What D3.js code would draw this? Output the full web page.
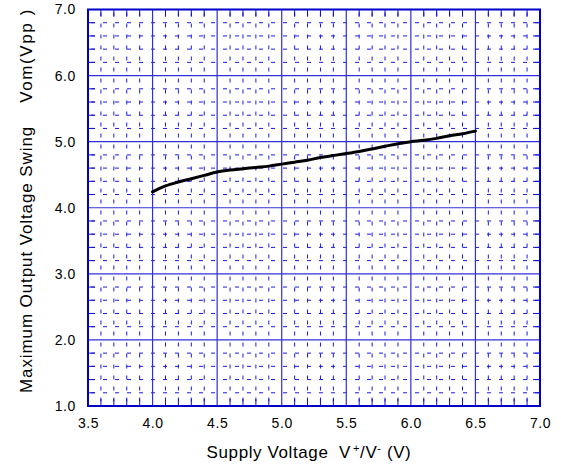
<!DOCTYPE html>
<html>
<head>
<meta charset="utf-8">
<script src="https://cdn.jsdelivr.net/npm/d3@7"></script>
<style>
  body { margin: 0; background: #fff; }
  text { font-family: "Liberation Sans", Arial, sans-serif; fill: #000; }
</style>
</head>
<body>
<svg id="canvas"></svg>
<script>
// supply voltage (V) and measured swing (Vpp)
const supplyVoltage = [4.0, 4.1, 4.2, 4.3, 4.4, 4.5, 4.6, 4.7, 4.8, 4.9, 5.0, 5.1, 5.2,
    5.3, 5.4, 5.5, 5.6, 5.7, 5.8, 5.9, 6.0, 6.1, 6.2, 6.3, 6.4, 6.5];
const outputSwing = [4.24, 4.33, 4.39, 4.44, 4.49, 4.54, 4.57, 4.59, 4.61, 4.63, 4.66, 4.69, 4.72,
    4.76, 4.79, 4.82, 4.85, 4.89, 4.93, 4.97, 5.00, 5.02, 5.05, 5.09, 5.12, 5.16];

const xTicks = [3.5, 4.0, 4.5, 5.0, 5.5, 6.0, 6.5, 7.0];
const yTicks = [1.0, 2.0, 3.0, 4.0, 5.0, 6.0, 7.0];

const margins = { top: 9.5, right: 21, bottom: 62, left: 88 };
const width = 561 - margins.left - margins.right;
const height = 468 - margins.top - margins.bottom;

const svg = d3.select("#canvas")
    .attr("width", 561)
    .attr("height", 468);

const g = svg.append("g")
    .attr("transform", "translate(" + margins.left + "," + margins.top + ")");

const x = d3.scaleLinear().domain([3.5, 7.0]).range([0, width]);
const y = d3.scaleLinear().domain([1.0, 7.0]).range([height, 0]);

// minor grid: every 0.1 V on x, every 0.2 V on y
const xMinor = d3.range(36).map(i => 3.5 + i * 0.1).filter(v => Math.abs(v * 2 - Math.round(v * 2)) > 1e-6);
const yMinor = d3.range(31).map(i => 1.0 + i * 0.2).filter(v => Math.abs(v - Math.round(v)) > 1e-6);

g.append("g")
    .selectAll("line")
    .data(xMinor)
    .enter()
    .append("line")
    .attr("x1", d => x(d)).attr("x2", d => x(d))
    .attr("y1", 0).attr("y2", height)
    .attr("stroke", "#1a1ae8")
    .attr("stroke-width", 1)
    .attr("stroke-dasharray", "4,7")
    .attr("stroke-dashoffset", -3);

g.append("g")
    .selectAll("line")
    .data(yMinor)
    .enter()
    .append("line")
    .attr("x1", 0).attr("x2", width)
    .attr("y1", d => y(d)).attr("y2", d => y(d))
    .attr("stroke", "#1a1ae8")
    .attr("stroke-width", 1)
    .attr("stroke-dasharray", "4,8")
    .attr("stroke-dashoffset", -3);

// inward ticks on the frame
const tickLen = 7;
const frameTicks = g.append("g").attr("stroke", "#1010d0").attr("stroke-width", 1);
xMinor.forEach(v => {
    frameTicks.append("line").attr("x1", x(v)).attr("x2", x(v)).attr("y1", height).attr("y2", height - tickLen);
    frameTicks.append("line").attr("x1", x(v)).attr("x2", x(v)).attr("y1", 0).attr("y2", tickLen);
});
yMinor.forEach(v => {
    frameTicks.append("line").attr("x1", 0).attr("x2", tickLen).attr("y1", y(v)).attr("y2", y(v));
    frameTicks.append("line").attr("x1", width).attr("x2", width - tickLen).attr("y1", y(v)).attr("y2", y(v));
});

// major grid
g.append("g")
    .selectAll("line")
    .data(xTicks)
    .enter()
    .append("line")
    .attr("x1", d => x(d)).attr("x2", d => x(d))
    .attr("y1", 0).attr("y2", height)
    .attr("stroke", "#3030d8")
    .attr("stroke-width", 1.2);

g.append("g")
    .selectAll("line")
    .data(yTicks)
    .enter()
    .append("line")
    .attr("x1", 0).attr("x2", width)
    .attr("y1", d => y(d)).attr("y2", d => y(d))
    .attr("stroke", "#3030d8")
    .attr("stroke-width", 1.2);

g.append("rect")
    .attr("width", width)
    .attr("height", height)
    .attr("fill", "none")
    .attr("stroke", "#0000c8")
    .attr("stroke-width", 2);

// axes (labels only, ticks drawn as grid)
const xAxis = g.append("g")
    .attr("transform", "translate(0," + height + ")")
    .call(d3.axisBottom(x).tickValues(xTicks).tickFormat(d3.format(".1f")).tickSize(0).tickPadding(12));
const yAxis = g.append("g")
    .call(d3.axisLeft(y).tickValues(yTicks).tickFormat(d3.format(".1f")).tickSize(0).tickPadding(12));

[xAxis, yAxis].forEach(a => {
    a.select(".domain").remove();
    a.selectAll("text")
        .attr("fill", "#000")
        .style("font-family", "'Liberation Sans', Arial, sans-serif")
        .style("font-size", "14px")
        .style("letter-spacing", "0.6px");
});

// curve
const line = d3.line()
    .x((d, i) => x(supplyVoltage[i]))
    .y(d => y(d))
    .curve(d3.curveMonotoneX);

g.append("path")
    .datum(outputSwing)
    .attr("d", line)
    .attr("fill", "none")
    .attr("stroke", "#000")
    .attr("stroke-width", 3)
    .attr("stroke-linecap", "round");

// axis titles
const xTitle = svg.append("text")
    .attr("x", 309)
    .attr("y", 458)
    .attr("text-anchor", "middle")
    .style("white-space", "pre")
    .style("font-size", "17px")
    .style("letter-spacing", "0.6px");
xTitle.append("tspan").text("Supply Voltage  V");
xTitle.append("tspan").attr("dx", 2).attr("baseline-shift", "super").style("font-size", "11px").text("+");
xTitle.append("tspan").text("/V");
xTitle.append("tspan").attr("baseline-shift", "super").style("font-size", "11px").text("-");
xTitle.append("tspan").text(" (V)");

svg.append("text")
    .attr("transform", "translate(32,393) rotate(-90)")
    .attr("text-anchor", "start")
    .style("font-size", "17px")
    .style("letter-spacing", "0.9px")
    .text("Maximum Output Voltage Swing");

svg.append("text")
    .attr("transform", "translate(32,8) rotate(-90)")
    .attr("text-anchor", "end")
    .style("font-size", "17px")
    .style("letter-spacing", "1.6px")
    .text("Vom(Vpp )");
</script>
</body>
</html>
